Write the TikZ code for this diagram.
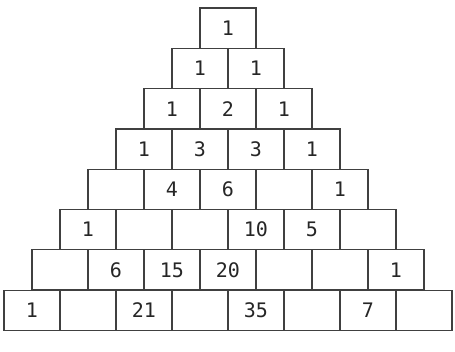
\documentclass[tikz,border=0pt]{standalone}
\usepackage{fontspec}
\newfontfamily\cellfont{DejaVu Sans Mono}
\usetikzlibrary{positioning}
\tikzset{
  cell/.style={draw=black!75, line width=0.9pt, minimum width=42pt,
               minimum height=30.2pt, inner sep=0pt, outer sep=0pt,
               font=\cellfont\fontsize{15}{17}\selectfont, text=black!85}
}
\begin{document}
\begin{tikzpicture}[x=0.75pt,y=0.75pt]
  \useasboundingbox (0,0) rectangle (455,352);
  \node[cell] (r1c1) at (228,323.85) {1};
  \node[cell] (r2c1) at (200,283.55) {1};
  \node[cell] (r2c2) at (256,283.55) {1};
  \node[cell] (r3c1) at (172,243.25) {1};
  \node[cell] (r3c2) at (228,243.25) {2};
  \node[cell] (r3c3) at (284,243.25) {1};
  \node[cell] (r4c1) at (144,202.95) {1};
  \node[cell] (r4c2) at (200,202.95) {3};
  \node[cell] (r4c3) at (256,202.95) {3};
  \node[cell] (r4c4) at (312,202.95) {1};
  \node[cell] (r5c1) at (116,162.65) {};
  \node[cell] (r5c2) at (172,162.65) {4};
  \node[cell] (r5c3) at (228,162.65) {6};
  \node[cell] (r5c4) at (284,162.65) {};
  \node[cell] (r5c5) at (340,162.65) {1};
  \node[cell] (r6c1) at (88,122.35) {1};
  \node[cell] (r6c2) at (144,122.35) {};
  \node[cell] (r6c3) at (200,122.35) {};
  \node[cell] (r6c4) at (256,122.35) {10};
  \node[cell] (r6c5) at (312,122.35) {5};
  \node[cell] (r6c6) at (368,122.35) {};
  \node[cell] (r7c1) at (60,82.05) {};
  \node[cell] (r7c2) at (116,82.05) {6};
  \node[cell] (r7c3) at (172,82.05) {15};
  \node[cell] (r7c4) at (228,82.05) {20};
  \node[cell] (r7c5) at (284,82.05) {};
  \node[cell] (r7c6) at (340,82.05) {};
  \node[cell] (r7c7) at (396,82.05) {1};
  \node[cell] (r8c1) at (32,41.75) {1};
  \node[cell] (r8c2) at (88,41.75) {};
  \node[cell] (r8c3) at (144,41.75) {21};
  \node[cell] (r8c4) at (200,41.75) {};
  \node[cell] (r8c5) at (256,41.75) {35};
  \node[cell] (r8c6) at (312,41.75) {};
  \node[cell] (r8c7) at (368,41.75) {7};
  \node[cell] (r8c8) at (424,41.75) {};
\end{tikzpicture}
\end{document}
